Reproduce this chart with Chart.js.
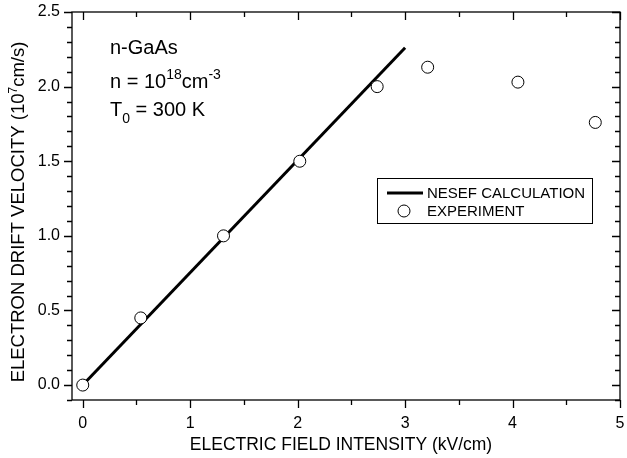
<!DOCTYPE html>
<html>
<head>
<meta charset="utf-8">
<script src="https://cdn.jsdelivr.net/npm/chart.js@4.4.1/dist/chart.umd.min.js"></script>
<style>
  body { margin: 0; background: #fff; }
</style>
</head>
<body>
<canvas id="driftChart" width="627" height="458"></canvas>
<script>
// measured points (kV/cm, 10^7 cm/s)
const fieldKV = [0, 0.54, 1.31, 2.02, 2.74, 3.21, 4.05, 4.77];
const velocityExp = [0, 0.45, 1.00, 1.50, 2.00, 2.13, 2.03, 1.76];

// NESEF calculation line
const calcField = [0, 3];
const calcVelocity = [0, 2.26];

const xTickValues = [0, 1, 2, 3, 4, 5];
const yTickValues = [0, 0.5, 1.0, 1.5, 2.0, 2.5];

const FONT = '"Liberation Sans", Arial, sans-serif';

function drawRich(ctx, parts, x, y) {
    // parts: [text, size, dy]
    parts.forEach(p => {
        ctx.font = p[1] + 'px ' + FONT;
        ctx.fillText(p[0], x, y + (p[2] || 0));
        x += ctx.measureText(p[0]).width;
    });
    return x;
}

function richWidth(ctx, parts) {
    let w = 0;
    parts.forEach(p => {
        ctx.font = p[1] + 'px ' + FONT;
        w += ctx.measureText(p[0]).width;
    });
    return w;
}

const framePlugin = {
    id: 'frame',
    afterDraw(chart) {
        const ctx = chart.ctx;
        const area = chart.chartArea;
        const xs = chart.scales.x, ys = chart.scales.y;
        ctx.save();
        ctx.strokeStyle = '#000';
        ctx.fillStyle = '#000';
        ctx.lineWidth = 1.3;
        ctx.strokeRect(area.left, area.top, area.right - area.left, area.bottom - area.top);

        // x ticks every 0.5: bottom outward, top inward
        ctx.beginPath();
        for (let v = 0; v <= 5.001; v += 0.5) {
            const px = Math.round(xs.getPixelForValue(v)) + 0.5;
            const len = Math.abs(v - Math.round(v)) < 1e-6 ? 8 : 5;
            ctx.moveTo(px, area.bottom); ctx.lineTo(px, area.bottom + len);
            ctx.moveTo(px, area.top); ctx.lineTo(px, area.top + len);
        }
        // y ticks every 0.1: left outward, right inward
        for (let i = -1; i <= 25; i++) {
            const v = i / 10;
            const py = Math.round(ys.getPixelForValue(v)) + 0.5;
            const len = i % 5 === 0 ? 8 : 5;
            ctx.moveTo(area.left, py); ctx.lineTo(area.left - len, py);
            ctx.moveTo(area.right, py); ctx.lineTo(area.right - len, py);
        }
        ctx.stroke();

        // annotation
        ctx.textAlign = 'left';
        ctx.textBaseline = 'alphabetic';
        drawRich(ctx, [['n-GaAs', 20]], 110, 54);
        drawRich(ctx, [['n = 10', 20], ['18', 14, -9], ['cm', 20], ['-3', 14, -9]], 110, 88);
        drawRich(ctx, [['T', 20], ['0', 14, 7], [' = 300 K', 20]], 110, 116);

        // legend
        ctx.lineWidth = 1;
        ctx.strokeRect(377.5, 178.5, 215, 45);
        ctx.lineWidth = 3;
        ctx.beginPath();
        ctx.moveTo(387, 193); ctx.lineTo(423, 193);
        ctx.stroke();
        ctx.lineWidth = 1;
        ctx.beginPath();
        ctx.arc(404, 211, 6, 0, Math.PI * 2);
        ctx.fillStyle = '#fff';
        ctx.fill();
        ctx.stroke();
        ctx.fillStyle = '#000';
        ctx.textBaseline = 'middle';
        ctx.font = '15px ' + FONT;
        ctx.fillText('NESEF CALCULATION', 427, 194);
        ctx.fillText('EXPERIMENT', 427, 212);

        // x axis title
        ctx.textBaseline = 'alphabetic';
        ctx.textAlign = 'center';
        ctx.font = '17.5px ' + FONT;
        ctx.fillText('ELECTRIC FIELD INTENSITY (kV/cm)', 341, 450);

        // y axis title, rotated
        ctx.translate(24, 212);
        ctx.rotate(-Math.PI / 2);
        ctx.textAlign = 'left';
        const yParts = [['ELECTRON DRIFT VELOCITY (10', 18.5], ['7', 12, -7], ['cm/s)', 18.5]];
        drawRich(ctx, yParts, -richWidth(ctx, yParts) / 2, 0);
        ctx.restore();
    }
};

function noEdgePadding(s) {
    s.paddingLeft = 0; s.paddingRight = 0;
    s.paddingTop = 0; s.paddingBottom = 0;
}

new Chart(document.getElementById('driftChart').getContext('2d'), {
    type: 'scatter',
    data: {
        datasets: [{
            label: 'EXPERIMENT',
            data: fieldKV.map((x, i) => ({ x: x, y: velocityExp[i] })),
            pointRadius: 6,
            pointBorderWidth: 1,
            pointBackgroundColor: '#fff',
            pointBorderColor: '#000',
            showLine: false,
            order: 1,
            clip: false
        }, {
            label: 'NESEF CALCULATION',
            data: calcField.map((x, i) => ({ x: x, y: calcVelocity[i] })),
            showLine: true,
            borderColor: '#000',
            borderWidth: 3,
            pointRadius: 0,
            order: 2,
            clip: false
        }]
    },
    options: {
        responsive: false,
        animation: false,
        layout: { padding: { left: 0, right: 5, top: 12, bottom: 0 } },
        plugins: { legend: { display: false }, tooltip: { enabled: false } },
        scales: {
            x: {
                type: 'linear',
                min: -0.1,
                max: 5,
                afterBuildTicks: s => { s.ticks = xTickValues.map(v => ({ value: v })); },
                afterFit: s => { s.height = 58; noEdgePadding(s); },
                grid: { display: false, drawTicks: false },
                border: { display: false },
                ticks: {
                    color: '#000',
                    padding: 14,
                    maxRotation: 0,
                    font: { family: FONT, size: 16 },
                    callback: v => String(v)
                }
            },
            y: {
                type: 'linear',
                min: -0.1,
                max: 2.5,
                afterBuildTicks: s => { s.ticks = yTickValues.map(v => ({ value: v })); },
                afterFit: s => { s.width = 72; noEdgePadding(s); },
                grid: { display: false, drawTicks: false },
                border: { display: false },
                ticks: {
                    color: '#000',
                    padding: 12,
                    font: { family: FONT, size: 16 },
                    callback: v => v.toFixed(1)
                }
            }
        }
    },
    plugins: [framePlugin]
});
</script>
</body>
</html>
